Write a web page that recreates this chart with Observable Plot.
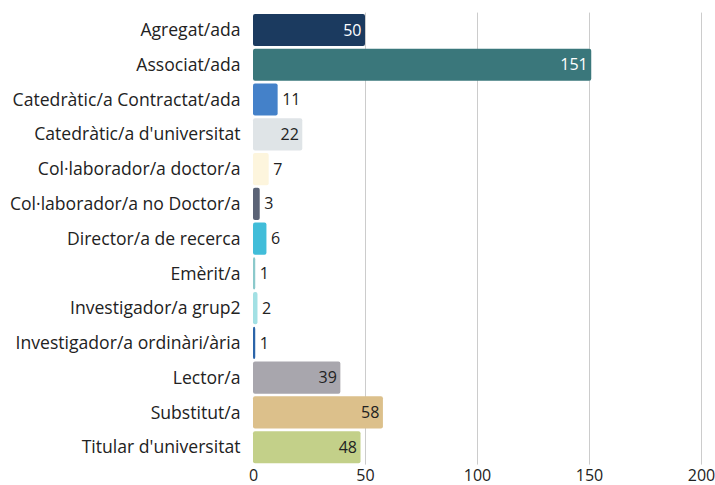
<!DOCTYPE html>
<html><head><meta charset="utf-8">
<script src="https://cdn.jsdelivr.net/npm/d3@7"></script>
<script src="https://cdn.jsdelivr.net/npm/@observablehq/plot@0.6"></script>
<style>body{margin:0;background:#fff;font-family:"Open Sans",sans-serif;} svg text{font-family:"Open Sans",sans-serif !important;}</style>
</head><body><div id="chart"></div>
<script>
const categories = ["Agregat/ada","Associat/ada","Catedràtic/a Contractat/ada","Catedràtic/a d'universitat","Col·laborador/a doctor/a","Col·laborador/a no Doctor/a","Director/a de recerca","Emèrit/a","Investigador/a grup2","Investigador/a ordinàri/ària","Lector/a","Substitut/a","Titular d'universitat"];
const values = [50,151,11,22,7,3,6,1,2,1,39,58,48];
const colors = ["#1b3a5f","#3a777b","#4481c9","#dfe4e7","#fdf5dd","#5b6376","#41bdd9","#8bc9cb","#a2e0e4","#2b64a9","#a8a6ad","#dcc08b","#c3d089"];
const labelColors = ["#fff","#fff","#222","#222","#222","#222","#222","#222","#222","#222","#222","#222","#222"];
const xTicks = [0,50,100,150,200];

const data = categories.map((c,i)=>({cat:c, v:values[i], color:colors[i], lc:labelColors[i], inside: values[i] >= 20}));

const chart = Plot.plot({
  width: 715, height: 485,
  marginLeft: 253, marginRight: 14, marginTop: 12.6, marginBottom: 20.4,
  style: {fontFamily: '"Open Sans", sans-serif', fontSize: "16px", color: "#222", background: "#fff"},
  x: {domain: [0,200], ticks: xTicks, label: null, grid: false},
  y: {domain: categories, label: null, padding: 0, round: false},
  marks: [
    Plot.gridX(xTicks.slice(1), {stroke: "#ccc", strokeOpacity: 1}),
    Plot.barX(data, {x: "v", y: "cat", fill: "color", rx: 2, insetTop: 1.3, insetBottom: 1.3}),
    Plot.text(data.filter(d=>d.inside), {x: "v", y: "cat", text: d=>String(d.v), fill: "lc", textAnchor: "end", dx: -4, fontSize: 16}),
    Plot.text(data.filter(d=>!d.inside), {x: "v", y: "cat", text: d=>String(d.v), fill: "lc", textAnchor: "start", dx: 4, fontSize: 16}),
    Plot.axisY({tickSize: 0, tickPadding: 13, fontSize: 17.6, label: null}),
    Plot.axisX(xTicks, {tickSize: 0, tickPadding: 5, fontSize: 16, label: null})
  ]
});
document.getElementById("chart").appendChild(chart);
</script></body></html>
